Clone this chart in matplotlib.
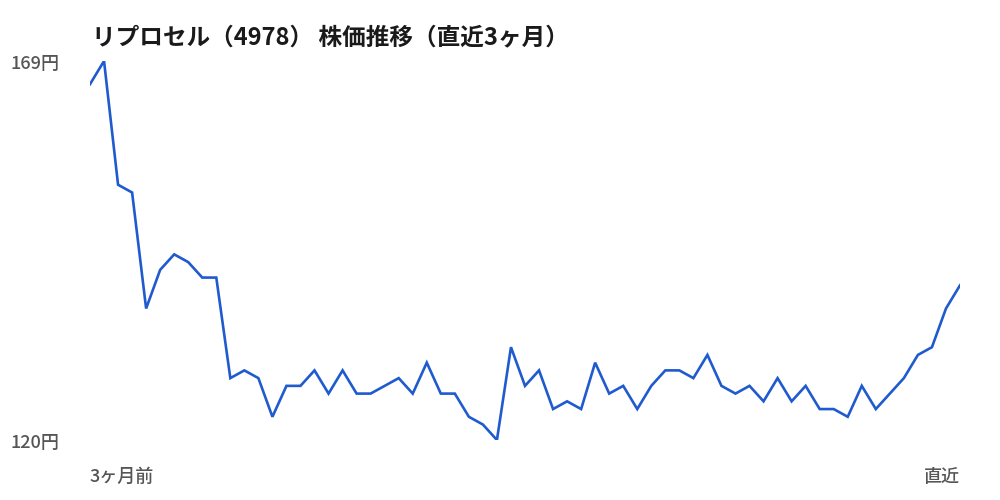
import matplotlib
matplotlib.use("Agg")
import matplotlib.pyplot as plt
import matplotlib.transforms as mtransforms

plt.rcParams['font.family'] = ['Noto Sans CJK JP', 'DejaVu Sans']

title = "リプロセル（4978） 株価推移（直近3ヶ月）"
x_labels = ["3ヶ月前", "直近"]
y_min, y_max = 120, 169
y_labels = ["120円", "169円"]
prices = [166, 169, 153, 152, 137, 142, 144, 143, 141, 141,
          128, 129, 128, 123, 127, 127, 129, 126, 129, 126,
          126, 127, 128, 126, 130, 126, 126, 123, 122, 120,
          132, 127, 129, 124, 125, 124, 130, 126, 127, 124,
          127, 129, 129, 128, 131, 127, 126, 127, 125, 128,
          125, 127, 124, 124, 123, 127, 124, 126, 128, 131,
          132, 137, 140]

fig = plt.figure(figsize=(10, 5), dpi=100)
ax = fig.add_axes([0.09, 0.12, 0.87, 0.758])
xs = list(range(len(prices)))
ax.plot(xs, prices, color='#1f5bcf', lw=1.9, solid_joinstyle='miter')
ax.set_xlim(0, len(prices) - 1)
ax.set_ylim(y_min, y_max)
ax.axis('off')

fig.text(0.092, 0.926, title, fontsize=17, fontweight='bold', color='#1a1a1a',
         ha='left', va='center')

trans = mtransforms.blended_transform_factory(fig.transFigure, ax.transData)
trans = trans + mtransforms.ScaledTranslation(0, -2.5 / 100, fig.dpi_scale_trans)
for v, lab in zip([y_min, y_max], y_labels):
    ax.text(0.010, v, lab, transform=trans, fontsize=13, color='#555555',
            ha='left', va='center', fontweight='medium')

fig.text(0.090, 0.046, x_labels[0], fontsize=13, color='#555555', ha='left',
         va='center', fontweight='medium')
fig.text(0.960, 0.046, x_labels[1], fontsize=13, color='#555555', ha='right',
         va='center', fontweight='medium')

fig.savefig('out.png', dpi=100, facecolor='white')
